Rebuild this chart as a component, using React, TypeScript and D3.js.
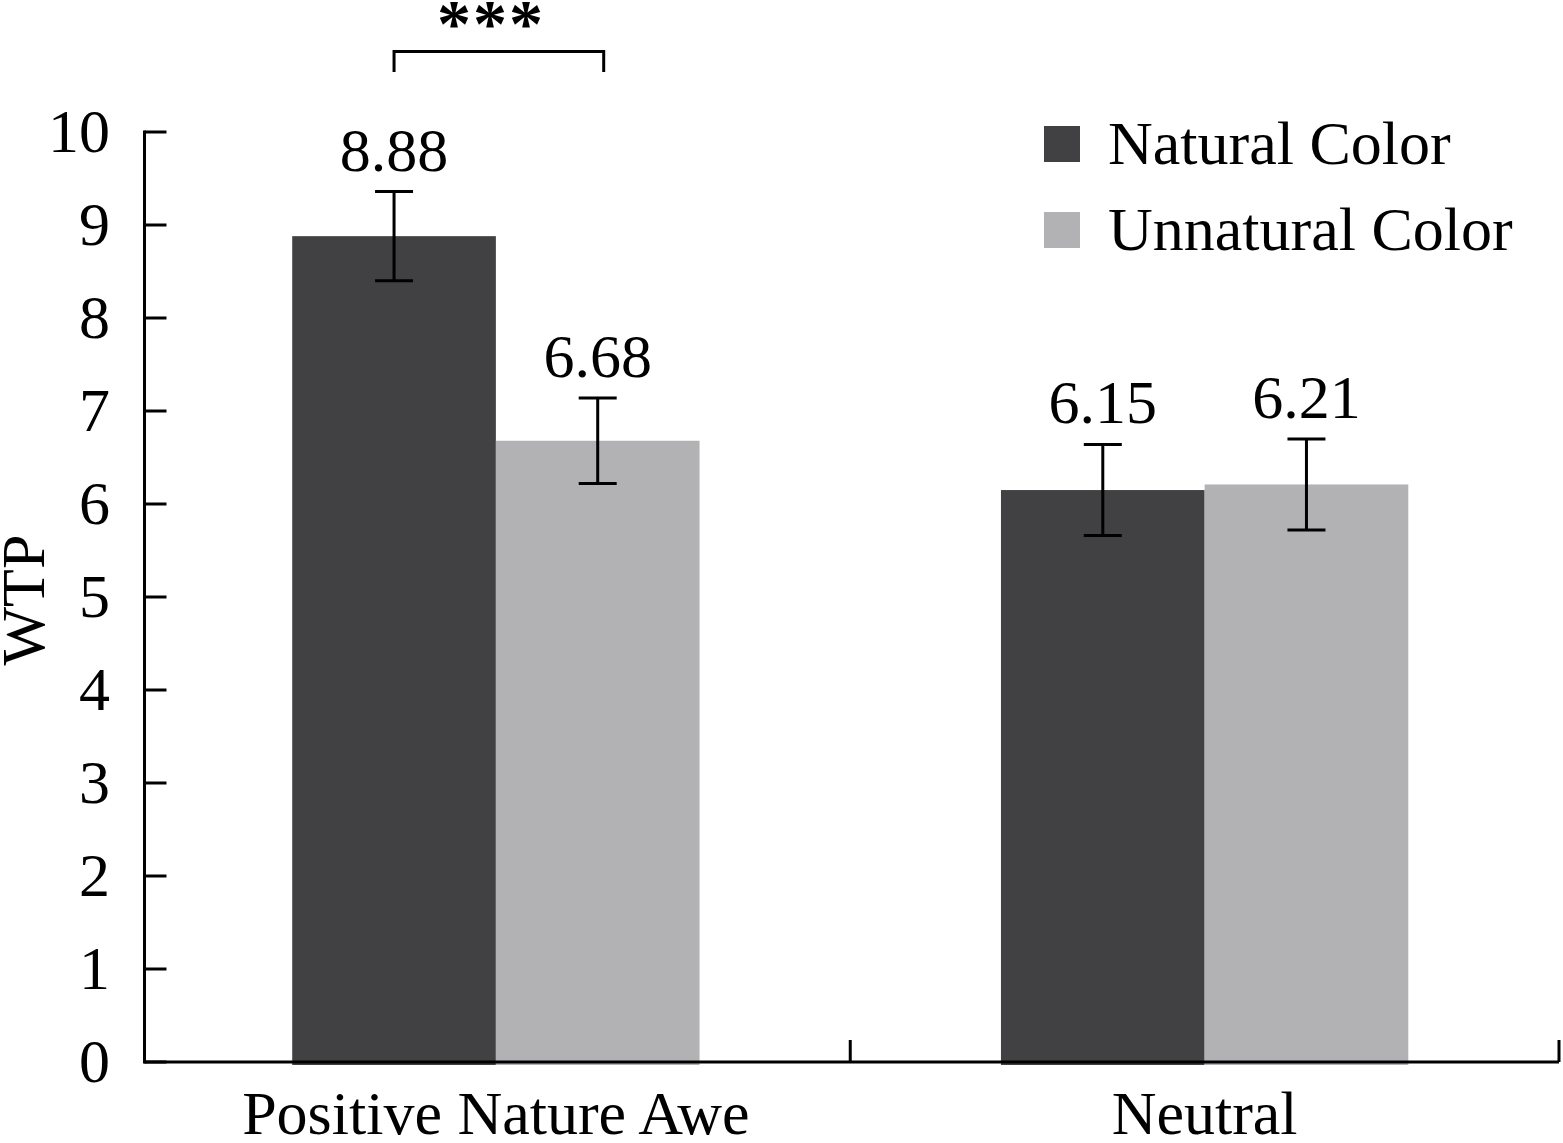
import * as d3 from "d3";

const categories = ["Positive Nature Awe", "Neutral"];
const seriesNames = ["Natural Color", "Unnatural Color"];
const naturalMeans = [8.88, 6.15];
const unnaturalMeans = [6.68, 6.21];
const naturalErr = [0.48, 0.49];
const unnaturalErr = [0.46, 0.49];
const yTicks = [0, 1, 2, 3, 4, 5, 6, 7, 8, 9, 10];

const colors: { [key: string]: string } = {
  "Natural Color": "#414042",
  "Unnatural Color": "#b2b1b4",
};

const width = 1563;
const height = 1143;
const font = "'Liberation Serif', 'Times New Roman', serif";
const fs = 62;

export default function App() {
  const left = 144.5;
  const right = 1559;
  const y = d3.scaleLinear().domain([0, 10]).range([1062, 132]);
  const x0 = d3.scaleBand().domain(categories).range([left - 3, right]).padding(0);
  const x1 = d3
    .scaleBand()
    .domain(seriesNames)
    .range([0, x0.bandwidth()])
    .paddingInner(0)
    .paddingOuter(0.74);

  const rows = categories.flatMap((c, i) => [
    { cat: c, s: seriesNames[0], v: naturalMeans[i], e: naturalErr[i] },
    { cat: c, s: seriesNames[1], v: unnaturalMeans[i], e: unnaturalErr[i] },
  ]);

  const cx = (r: { cat: string; s: string }) =>
    (x0(r.cat) || 0) + (x1(r.s) || 0) + x1.bandwidth() / 2;

  const capHalf = 19;
  const bx1 = cx(rows[0]);
  const bx2 = cx(rows[1]) + 6;

  return (
    <svg
      width={width}
      height={height}
      style={{ position: "absolute", left: 0, top: 0, background: "#fff" }}
      fontFamily={font}
    >
      {/* bars */}
      {rows.map((r, i) => (
        <rect
          key={"b" + i}
          x={(x0(r.cat) || 0) + (x1(r.s) || 0)}
          y={y(r.v)}
          width={x1.bandwidth()}
          height={y(0) - y(r.v) + 3}
          fill={colors[r.s]}
        />
      ))}

      {/* axes */}
      <line x1={left} x2={left} y1={y(10) - 1.5} y2={y(0) + 1.5} stroke="#000" strokeWidth={3} />
      <line x1={left} x2={right} y1={y(0)} y2={y(0)} stroke="#000" strokeWidth={3} />
      {yTicks.map((t) => (
        <g key={"t" + t}>
          <line x1={left} x2={left + 22} y1={y(t)} y2={y(t)} stroke="#000" strokeWidth={3} />
          <text x={110} y={y(t)} dy="0.33em" textAnchor="end" fontSize={fs}>
            {t}
          </text>
        </g>
      ))}
      {categories.map((c) => (
        <line
          key={"xt" + c}
          x1={(x0(c) || 0) + x0.bandwidth()}
          x2={(x0(c) || 0) + x0.bandwidth()}
          y1={y(0)}
          y2={y(0) - 22}
          stroke="#000"
          strokeWidth={3}
        />
      ))}
      {categories.map((c) => (
        <text
          key={"xl" + c}
          x={(x0(c) || 0) + x0.bandwidth() / 2}
          y={1134}
          textAnchor="middle"
          fontSize={fs}
        >
          {c}
        </text>
      ))}
      <text transform="translate(44,600) rotate(-90)" textAnchor="middle" fontSize={fs}>
        WTP
      </text>

      {/* error bars and value labels */}
      {rows.map((r, i) => {
        const c = cx(r);
        const top = y(r.v + r.e);
        const bot = y(r.v - r.e);
        return (
          <g key={"e" + i}>
            <line x1={c} x2={c} y1={top} y2={bot} stroke="#000" strokeWidth={3} />
            <line x1={c - capHalf} x2={c + capHalf} y1={top} y2={top} stroke="#000" strokeWidth={3} />
            <line x1={c - capHalf} x2={c + capHalf} y1={bot} y2={bot} stroke="#000" strokeWidth={3} />
            <text x={c} y={top - 21} textAnchor="middle" fontSize={fs}>
              {r.v.toFixed(2)}
            </text>
          </g>
        );
      })}

      {/* significance bracket */}
      <path
        d={`M${bx1},72 V51.5 H${bx2} V72`}
        fill="none"
        stroke="#000"
        strokeWidth={3}
      />
      <text
        x={(bx1 + bx2) / 2 - 8}
        y={46}
        textAnchor="middle"
        fontSize={68}
        fontWeight="bold"
        letterSpacing={2}
      >
        ***
      </text>

      {/* legend */}
      {seriesNames.map((s, i) => (
        <g key={"l" + s} transform={`translate(1044,${126 + i * 86})`}>
          <rect x={0} y={0} width={36} height={36} fill={colors[s]} />
          <text x={64} y={38} fontSize={fs}>
            {s}
          </text>
        </g>
      ))}
    </svg>
  );
}
